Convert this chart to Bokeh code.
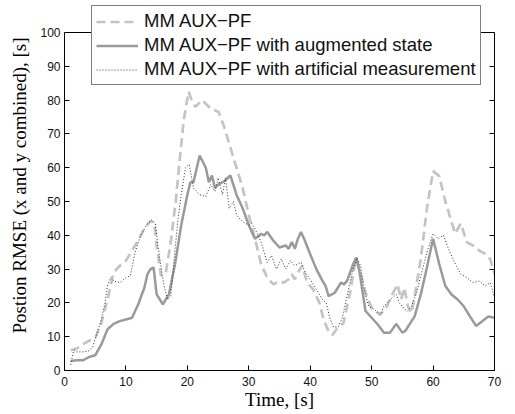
from bokeh.plotting import figure
from bokeh.models import Range1d, LinearAxis, Legend, LegendItem, FixedTicker, Span
from bokeh.embed import file_html
from bokeh.resources import INLINE

# MM AUX-PF (dashed)
t_aux = [1, 2, 3, 4, 5, 6, 7, 8, 9, 10, 11, 12, 13, 14, 14.6, 15, 15.7, 16.5, 17.3, 18.1, 18.8, 19.4,
         20.2, 20.7, 21.3, 22.4, 23.8, 25.1, 26, 27, 28, 29, 30, 31, 32, 33, 34, 35, 35.7, 36.5, 37,
         37.5, 38, 38.7, 39.5, 40.5, 41.5, 42.2, 43, 43.6, 44.4, 45.4, 46, 46.6, 47.1, 47.5, 48.2, 49,
         50, 51.4, 52.5, 53.5, 54.2, 54.8, 55.3, 55.9, 56.5, 57, 58, 59, 60, 61, 62, 63, 63.6, 64.5,
         65.5, 66.5, 67.5, 68.5, 69.3, 70]
v_aux = [6.0, 6.5, 7.8, 8.8, 9.5, 14.0, 21, 29, 31, 32.5, 35.5, 38.5, 42, 44.2, 43.8, 37, 28, 29, 38,
         50, 63, 74, 82.5, 80, 78, 80, 77.5, 76.5, 72, 66, 60, 54, 46, 39, 31.5, 27.5, 25.5, 26.5, 26,
         27, 28.5, 27, 29, 31, 26, 24, 20, 15, 11.5, 10.5, 12.5, 14, 19, 24, 30, 33, 28.5, 23, 18.5,
         16.5, 19, 23, 25.5, 21, 24.5, 19, 17, 22, 33, 48, 59, 57.5, 50, 44, 40.5, 43.5, 38, 37, 35.5,
         34.5, 33, 28.5]

# MM AUX-PF with augmented state (solid)
t_aug = [1, 2, 3, 4, 5, 6, 7, 8, 9, 10, 11, 12, 13, 13.5, 14, 14.5, 15, 16, 17, 18, 19, 20, 20.5, 21,
         22, 23, 23.5, 24, 24.5, 25, 26, 27, 28, 29, 30, 31, 32, 32.5, 33, 34, 35, 36, 36.5, 37, 37.5,
         38, 38.5, 39, 40, 41, 42, 42.5, 43, 44, 45, 45.5, 46, 47, 47.5, 48, 49, 50, 51, 52, 53, 54,
         55, 55.5, 56, 57, 58, 59, 60, 61, 62, 63, 64, 65, 66, 67, 68, 69, 70]
v_aug = [2.8, 3.0, 3.0, 4.0, 4.5, 7.7, 12.2, 13.8, 14.6, 15.1, 15.6, 19.6, 24.5, 28.5, 30, 30.5, 22.5,
         19.6, 22.5, 31.5, 43, 52, 55.7, 55.7, 63.6, 60, 55.7, 57.7, 54, 55, 56, 57.7, 52, 48, 43, 39,
         40.4, 40, 41, 38.4, 36.4, 37, 36, 38, 36, 39, 41, 39, 34.4, 30, 26.5, 25, 22, 23, 26, 25.5,
         26.5, 31.5, 33.4, 29.5, 17.6, 15.6, 13.6, 11.2, 11.2, 13.8, 11.2, 11.7, 13.2, 16, 22.5, 30.5,
         39, 31.5, 25, 22.5, 21, 19, 16, 13.2, 14.6, 16, 15.6]

# MM AUX-PF with artificial measurement (dotted)
t_art = [1, 1.5, 2, 3, 4, 4.6, 5, 6, 6.6, 7, 7.5, 8, 9, 10, 10.7, 11.5, 12.4, 13.5, 14.2, 14.8, 15.2,
         15.6, 16.2, 16.8, 17.3, 18, 18.5, 19, 19.7, 20.3, 20.6, 21, 22, 23, 23.8, 24.5, 25, 25.7, 26.2,
         26.8, 27.5, 28, 29, 30, 30.5, 31, 32, 32.5, 33, 33.7, 34.5, 35.3, 36, 36.8, 37.5, 38.5, 39.2,
         40, 41, 42, 42.6, 43.2, 43.8, 44.6, 45.2, 46, 46.7, 47.6, 48.2, 48.8, 49.5, 50.5, 51.4, 52, 53,
         54, 54.5, 55.2, 55.8, 56.5, 57.3, 58, 59, 60, 60.8, 61.7, 62.5, 63.5, 64.5, 65.5, 66.5, 67.5,
         68.5, 69.3, 70]
v_art = [1.7, 6, 5.5, 5.5, 5.8, 7, 9.5, 15, 20, 25, 27.5, 26.5, 26, 27.5, 28, 35, 40, 43.5, 44.5, 43.5,
         37, 32, 25, 21, 22, 36, 45, 52, 60, 61, 58, 54, 52, 51.5, 55, 53, 57, 52, 57, 48, 50, 46, 44,
         43, 43.5, 42, 38, 35, 32, 34, 30, 33, 30, 32.5, 31, 32, 29, 27, 24, 21, 20, 15.5, 12.8, 13,
         15.5, 22, 28, 33.3, 31, 24, 19, 18, 16.5, 19, 21, 22.5, 20, 18.5, 17.5, 19, 23, 28, 35, 40.5,
         39, 40, 36, 32, 28.5, 27.5, 26, 26.5, 25, 26, 21.5]

labels = ["MM AUX\u2212PF", "MM AUX\u2212PF with augmented state",
          "MM AUX\u2212PF with artificial measurement"]
x_ticks = [0, 10, 20, 30, 40, 50, 60, 70]
y_ticks = [0, 10, 20, 30, 40, 50, 60, 70, 80, 90, 100]
y_top = 100
y_view_max = 109.47  # headroom above the axes box for the legend

p = figure(output_backend="svg", toolbar_location=None,
           width=512, height=412,
           min_border_left=64, min_border_right=18, min_border_top=0, min_border_bottom=42,
           x_range=Range1d(0, 70), y_range=Range1d(0, y_view_max),
           x_axis_label="Time, [s]", y_axis_label="Postion RMSE (x and y combined), [s]")
p.background_fill_color = "white"
p.border_fill_color = "white"
p.outline_line_color = None
p.xgrid.visible = False
p.ygrid.visible = False

r1 = p.line(t_aux, v_aux, line_color="#c4c4c4", line_width=2.7, line_dash="9 5")
r2 = p.line(t_aug, v_aug, line_color="#9a9a9a", line_width=2.5)
r3 = p.line(t_art, v_art, line_color="#303030", line_width=1, line_dash="1 2")

def style_axis(ax, ticks):
    ax.ticker = FixedTicker(ticks=ticks)
    ax.major_tick_in = 5
    ax.major_tick_out = 0
    ax.minor_tick_line_color = None
    ax.axis_line_color = "black"
    ax.major_tick_line_color = "black"
    ax.major_label_text_font = "Liberation Sans"
    ax.major_label_text_font_size = "12px"
    ax.major_label_text_color = "#111111"
    ax.axis_label_text_font = "Liberation Serif"
    ax.axis_label_text_font_size = "19px"
    ax.axis_label_text_font_style = "normal"
    ax.axis_label_text_color = "black"

style_axis(p.xaxis[0], x_ticks)
style_axis(p.yaxis[0], y_ticks)
p.yaxis[0].bounds = (0, y_top)
p.xaxis[0].major_label_standoff = 6
p.xaxis[0].axis_label_standoff = 0
p.yaxis[0].major_label_standoff = 4
p.yaxis[0].axis_label_standoff = 7

ax_r = LinearAxis(major_label_overrides={t: "" for t in y_ticks})
style_axis(ax_r, y_ticks)
ax_r.bounds = (0, y_top)
ax_r.major_label_standoff = 0
p.add_layout(ax_r, "right")

# top edge of the axes box
p.add_layout(Span(location=y_top, dimension="width", line_color="black", line_width=1))

legend = Legend(items=[LegendItem(label=labels[0], renderers=[r1]),
                       LegendItem(label=labels[1], renderers=[r2]),
                       LegendItem(label=labels[2], renderers=[r3])],
                location=(27, 285))
legend.label_text_font = "Liberation Sans"
legend.label_text_font_size = "18.5px"
legend.label_text_color = "#111111"
legend.glyph_width = 42
legend.glyph_height = 21
legend.label_height = 21
legend.label_standoff = 6
legend.spacing = 2
legend.padding = 4
legend.margin = 0
legend.border_line_color = "black"
legend.border_line_width = 1
legend.background_fill_color = "white"
legend.background_fill_alpha = 1
p.add_layout(legend, "center")

open("out.html", "w").write(file_html(p, INLINE))
